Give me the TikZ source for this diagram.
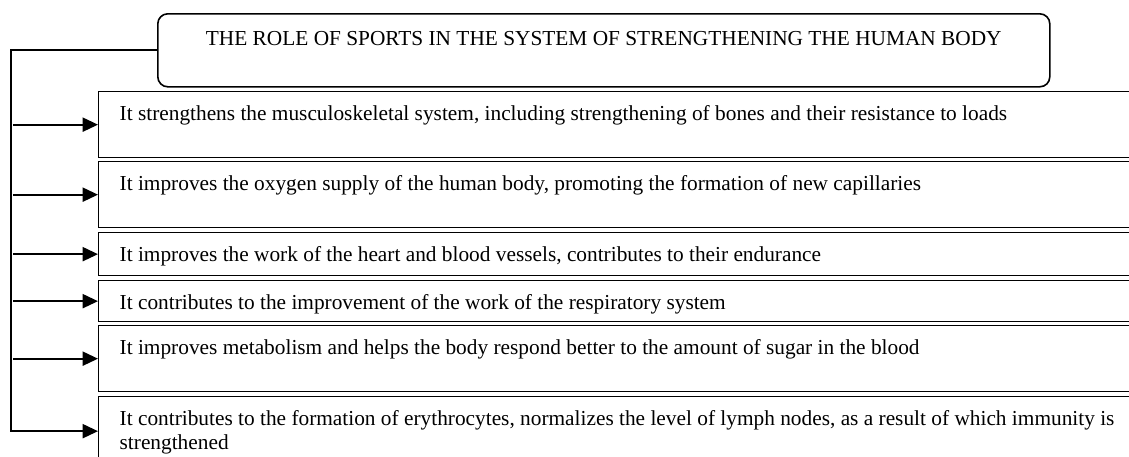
\documentclass[tikz,border=0pt]{standalone}
\usepackage{fontspec}
\setmainfont{Liberation Serif}
\usetikzlibrary{arrows.meta}
\tikzset{
  txtfont/.style={font=\fontsize{16pt}{17.5pt}\selectfont},
  titlebox/.style={draw, line width=1.2pt, rounded corners=7.5pt, txtfont,
    anchor=north west, inner sep=0pt, minimum width=669pt,
    text height=24pt, text depth=30.75pt},
  itembox/.style={draw, line width=1pt, txtfont, anchor=north west,
    inner xsep=15.75pt, inner ysep=0pt, text width=770pt, align=flush left,
    text height=21.75pt},
  conn/.style={line width=1.5pt},
  arr/.style={conn, -{Triangle[length=11.5pt,width=10.5pt]}},
}
\begin{document}
\begin{tikzpicture}[x=0.75pt,y=-0.75pt]
\useasboundingbox (0,0) rectangle (1129,457);
\clip (0,0) rectangle (1129,457);
\node[titlebox] (title) at (157,13) {THE ROLE OF SPORTS IN THE SYSTEM OF STRENGTHENING THE HUMAN BODY};
\node[itembox, text depth=27.75pt] (b1) at (98,91) {It strengthens the musculoskeletal system, including strengthening of bones and their resistance to loads};
\node[itembox, text depth=27.75pt] (b2) at (98,161) {It improves the oxygen supply of the human body, promoting the formation of new capillaries};
\node[itembox, text depth=10.5pt] (b3) at (98,232) {It improves the work of the heart and blood vessels, contributes to their endurance};
\node[itembox, text depth=9pt] (b4) at (98,280) {It contributes to the improvement of the work of the respiratory system};
\node[itembox, text depth=27.75pt] (b5) at (98,325) {It improves metabolism and helps the body respond better to the amount of sugar in the blood};
\node[itembox, text depth=30pt] (b6) at (98,396) {\hyphenpenalty=10000 It contributes to the formation of erythrocytes, normalizes the level of lymph nodes, as a result of which immunity is\\ strengthened};
\coordinate (spine) at (11,50);
\draw[arr] (title.west) -| (spine |- b6.west) -- (b6.west);
\foreach \b in {b1,b2,b3,b4,b5}{
  \draw[arr] ([xshift=1.5pt]spine |- \b.west) -- (\b.west);
}
\end{tikzpicture}
\end{document}
